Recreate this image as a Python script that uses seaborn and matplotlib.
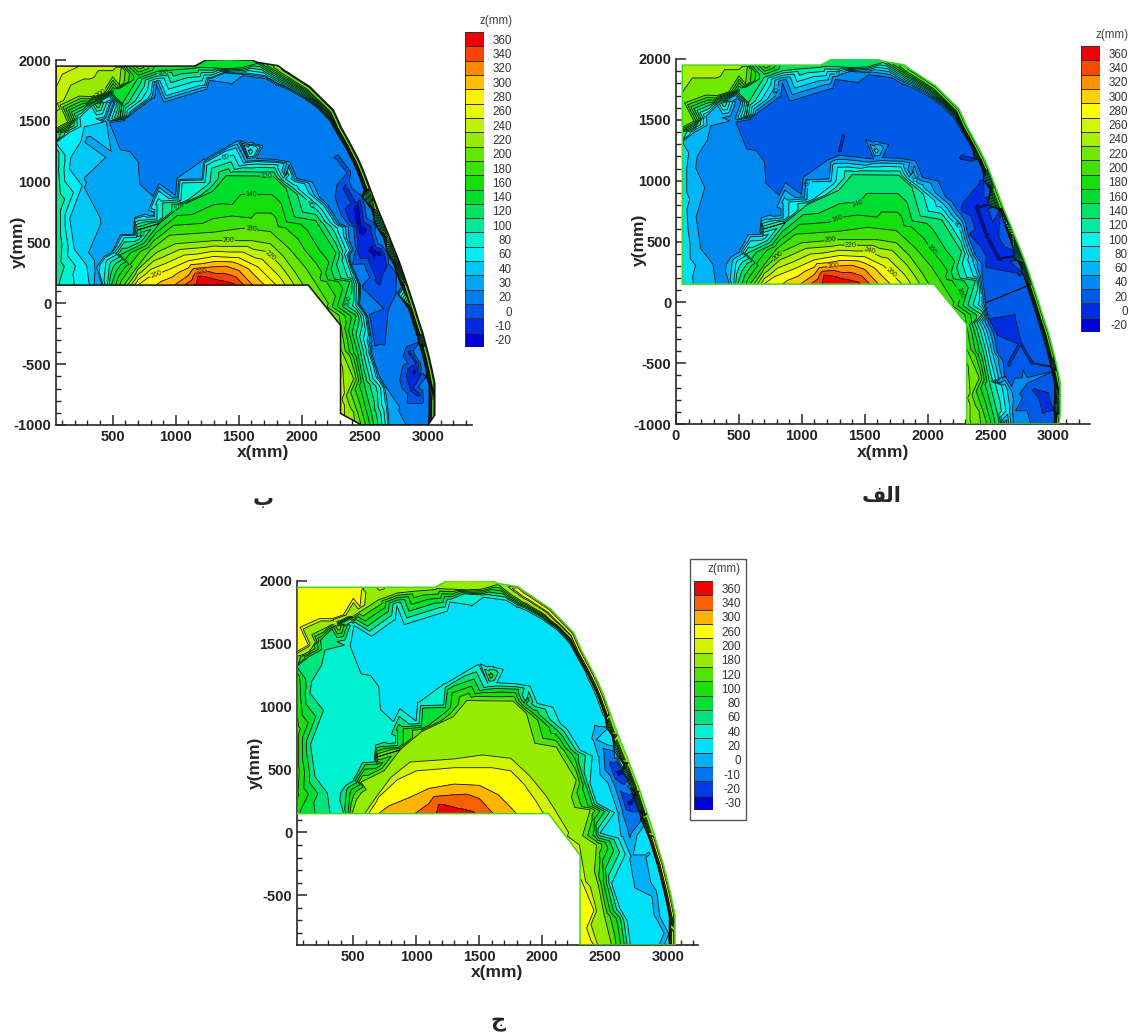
import numpy as np
import pandas as pd
import matplotlib
matplotlib.use("Agg")
import matplotlib.pyplot as plt
import matplotlib.tri as mtri
from matplotlib.colors import ListedColormap
from matplotlib.patches import Polygon, Rectangle
from matplotlib.ticker import MultipleLocator
import seaborn as sns

# legend levels of each panel, top to bottom
levels_a = [360, 340, 320, 300, 280, 260, 240, 220, 200, 180, 160, 140, 120, 100, 80, 60, 40, 20, 0, -20]
levels_b = [360, 340, 320, 300, 280, 260, 240, 220, 200, 180, 160, 140, 120, 100, 80, 60, 40, 30, 20, 0, -10, -20]
levels_c = [360, 340, 300, 260, 200, 180, 120, 100, 80, 60, 40, 20, 0, -10, -20, -30]

# stations (mm), one pair of lists per contour
peak_x = [1210, 1170, 1185, 1240, 1350, 1450]
peak_y = [170, 150, 215, 205, 175, 150]
peak_z = [356, 345, 345, 345, 345, 345]

iso300_x = [990, 1100, 1300, 1400, 1500, 1610]
iso300_y = [150, 230, 300, 305, 270, 150]
iso260_x = [700, 780, 950, 1100, 1300, 1500, 1650, 1796]
iso260_y = [150, 210, 280, 350, 385, 375, 300, 150]
iso200_x = [620, 700, 850, 1000, 1300, 1600, 1750, 1850, 1950, 2010, 2310, 2410, 2410, 2420]
iso200_y = [150, 280, 420, 490, 515, 515, 490, 390, 250, 150, -380, -620, -895, -1000]
iso180_x = [590, 680, 800, 950, 1300, 1750, 1900, 2100, 2295, 2310, 2380, 2440, 2470]
iso180_y = [150, 280, 440, 560, 585, 590, 450, 180, -100, -190, -430, -895, -1000]
iso120_x = [490, 560, 698, 870, 1042, 1293, 1400, 1770, 1875, 2110, 2270, 2380, 2430, 2445, 2490, 2550, 2570]
iso120_y = [150, 400, 603, 656, 802, 921, 1049, 1045, 945, 680, 415, 180, -100, -420, -650, -895, -1000]

stair70_x = [450, 470, 540, 600, 700, 715, 860, 860, 1050, 1060, 1240, 1255, 1560, 1590, 1640, 1790, 1850, 1880,
             1930, 2100, 2260, 2340, 2390, 2420, 2500, 2610, 2640, 2650]
stair70_y = [150, 350, 390, 530, 535, 670, 685, 830, 835, 980, 985, 1125, 1130, 1240, 1135, 1130, 1020, 1060,
             960, 810, 620, 370, 215, -20, -410, -690, -895, -1000]
stair20_x = [407, 420, 487, 553, 659, 672, 817, 817, 1003, 1016, 1201, 1214, 1571, 1571, 1611, 1637, 1796, 1875,
             1902, 1955, 2140, 2299, 2378, 2431, 2457, 2550, 2669, 2695, 2700]
stair20_y = [150, 391, 431, 572, 577, 717, 731, 876, 882, 1027, 1033, 1173, 1178, 1314, 1314, 1186, 1178, 1067,
             1160, 1027, 868, 656, 391, 232, -6, -405, -696, -895, -1000]
spur_x = [1590]
spur_y = [1285]

divider_x = [470, 553, 633, 698, 712, 765]
divider_y = [1490, 1147, 1247, 1160, 974, 749]
left40_x = [315, 294, 196, 160, 156, 169, 249, 275, 368, 430]
left40_y = [150, 312, 444, 700, 1107, 1200, 1332, 1451, 1518, 1490]
left28_x = [360, 300, 300, 370, 500, 600, 600, 450]
left28_y = [150, 1350, 1000, 300, 1200, 1000, 800, 700]

plateau_x = [900, 1300, 1700, 2000, 2200, 1100, 1500, 2620, 2800, 2900, 2850,
             720, 800, 870, 950, 1150, 1700, 1900, 2000, 2100, 2200, 900, 1250, 1600, 1900, 2100, 2200, 650, 600]
plateau_y = [1500, 1500, 1500, 1300, 1000, 1300, 1350, -600, -800, -1000, -1000,
             1300, 1100, 1000, 1250, 1230, 1300, 1250, 1150, 1000, 830, 1640, 1750, 1780, 1640, 1500, 1320, 1550, 1300]
plateau_ab_x = [2790, 2800, 2740]
plateau_ab_y = [-100, -300, -480]

corner200_x = [50, 143, 235, 330, 420, 500, 553, 566, 710]
corner200_y = [1438, 1490, 1703, 1700, 1730, 1862, 1796, 1928, 1950]
corner120_x = [50, 169, 275, 380, 500, 560, 700, 850, 1000, 1300, 1400, 1520]
corner120_y = [1400, 1465, 1624, 1640, 1720, 1760, 1850, 1905, 1920, 1935, 1930, 1935]
corner60_x = [50, 150, 240, 330, 400, 470]
corner60_y = [1320, 1400, 1530, 1620, 1660, 1700]
corner240_x = [300, 500, 566]
corner240_y = [1950, 1950, 1950]

rim_inner_x = [447, 500, 830, 844, 1267, 1400, 1444, 1505, 1531, 1717, 1800, 1875, 2000, 2113, 2190, 2225, 2262, 2310,
               2356, 2400, 2440, 2495, 2555, 2645, 2730, 2790, 2848, 2880, 2915, 2940, 2965, 2988, 3008, 3008, 3008, 3005]
rim_inner_y = [1504, 1650, 1695, 1809, 1836, 1889, 1810, 1880, 1875, 1849, 1800, 1770, 1700, 1620, 1540, 1500, 1430, 1345,
               1260, 1170, 1080, 930, 765, 540, 315, 135, -50, -155, -265, -365, -465, -570, -670, -790, -918, -1000]
rim_mid_x = [1800, 1848, 1888, 1967, 2048, 2133, 2230, 2258, 2288, 2335, 2380, 2424, 2463, 2518, 2578, 2668, 2754,
             2813, 2871, 2903, 2938, 2963, 2988, 3011, 3031, 3031, 3031, 3025]
rim_mid_y = [1930, 1893, 1868, 1815, 1762, 1675, 1575, 1510, 1440, 1355, 1270, 1180, 1088, 938, 772, 548, 322,
             145, -38, -145, -255, -355, -455, -560, -660, -790, -918, -1000]
rim_outer_x = [610, 850, 1150, 1240, 1400, 1600, 1650, 1812, 1860, 1900, 1980, 2063, 2150, 2248, 2280, 2310, 2355, 2400,
               2445, 2485, 2540, 2600, 2690, 2776, 2835, 2893, 2925, 2960, 2985, 3010, 3033, 3053, 3053, 3053, 3045]
rim_outer_y = [1950, 1950, 1950, 2000, 2005, 2000, 1980, 1953, 1915, 1890, 1835, 1780, 1690, 1590, 1520, 1450, 1365, 1280,
               1190, 1096, 945, 780, 555, 330, 150, -33, -140, -250, -350, -450, -555, -658, -790, -918, -1000]
rim_outer_z = [130, 130, 130, 130, 130, 130, 130, 190, 175, 175, 175, 175, 175, 175, 175, 175, 175, 175,
               175, 175, 175, 175, 175, 175, 175, 175, 175, 175, 175, 175, 175, 175, 175, 175, 175]

inner_x = [2050, 2180, 2300, 2300, 2300, 2300]
inner_y = [150, -30, -180, -500, -800, -1000]
inner_z = [198, 190, 182, 225, 230, 230]

left_edge_y = [150, 300, 500, 800, 1100, 1250, 1350, 1650, 1950]
left_edge_z_a = [70, 75, 75, 70, 70, 75, 110, 215, 235]
left_edge_z_b = [85, 95, 100, 100, 90, 90, 120, 230, 255]
left_edge_z_c = [85, 105, 110, 110, 95, 90, 110, 225, 250]

# deep zones differ from panel to panel
deep_a_x = [2286, 2273, 2340, 2470, 2497, 2550, 2643, 2737, 2684, 2750, 2680, 2570, 2440, 2370]
deep_a_y = [1197, 759, 560, 293, -145, -255, -515, -337, -118, 238, 420, 750, 1000, 1180]
core_a_x = [2393, 2472, 2671, 2565, 2472]
core_a_y = [772, 800, 375, 361, 540]
low_a_x = [2830, 2975, 2995, 2922, 2842]
low_a_y = [-500, -530, -885, -900, -720]
light_a_x = [2560, 2620, 2780, 2780, 2700]
light_a_y = [-650, -1000, -1000, -650, -760]
wedge_a_x = [1330, 1300]
wedge_a_y = [1370, 1240]

deep_b_x = [2287, 2274, 2327, 2406, 2485, 2540, 2578, 2644, 2670, 2740, 2745, 2680, 2575, 2470, 2380]
deep_b_y = [1205, 877, 712, 329, 137, -100, -343, -329, -50, 100, 250, 400, 650, 880, 1080]
mid_b_x = [2340, 2420, 2540, 2660, 2600, 2450, 2360]
mid_b_y = [950, 810, 590, 330, 200, 450, 750]
core_b_x = [2440, 2500, 2617, 2560, 2460]
core_b_y = [800, 600, 411, 430, 630]
low_b_x = [2800, 2920, 2980, 2960, 2840]
low_b_y = [-300, -330, -600, -800, -800]
lowmid_b_x = [2850, 2920, 2930, 2870, 2890]
lowmid_b_y = [-400, -500, -750, -700, -560]
lowmid_b_z = [-12, -12, -12, -12, -22]
light_b_x = [2650, 2680, 2750, 2800]
light_b_y = [-1000, -800, -900, -1000]

deep_c_x = [2444, 2418, 2457, 2537, 2616, 2642, 2709, 2748, 2814, 2848, 2800, 2700, 2590, 2510]
deep_c_y = [834, 736, 603, 391, 153, -33, -191, -417, -191, -165, 60, 350, 620, 830]
mid_c_x = [2497, 2576, 2642, 2695, 2780, 2700, 2570]
mid_c_y = [656, 391, 153, -6, 100, 338, 640]
dark_c_x = [2545, 2642, 2695, 2760, 2675, 2590]
dark_c_y = [540, 391, 180, 180, 418, 560]
core_c_x = [2600, 2690, 2725, 2630]
core_c_y = [470, 230, 270, 480]
low_c_x = [2850, 2920, 2960, 3000, 2900]
low_c_y = [-400, -650, -895, -800, -480]

# spike near x=560 in the two measured panels a and b
spike_x = [505, 560, 575, 590]
spike_y = [1750, 1540, 1640, 1510]
spike_z = [120, 120, 120, 20.2]

# outline of the measured region, the rim is shared and the lower end is not
outline_start_x = [50, 50]
outline_start_y = [150, 1950]
outline_a_x = [2310, 2310, 2050]
outline_a_y = [-1000, -180, 150]
outline_b_x = [3000, 2472, 2306, 2306, 2050]
outline_b_y = [-1000, -1000, -905, -180, 150]
outline_c_x = [3053, 2300, 2300, 2050]
outline_c_y = [-895, -895, -180, 150]

label_spots_a = [(1440, 790), (1300, 640), (1230, 510), (1390, 460), (1530, 400), (1250, 280), (1700, 230), (2000, 400),
                 (1050, 980), (820, 370), (1880, 1020), (2240, 640), (2270, 90), (2420, 30), (1300, 1880), (790, 1740)]
label_spots_b = [(1420, 510), (1750, 390), (1600, 840), (1600, 650), (1200, 260), (850, 220), (1030, 790), (1720, 1060),
                 (2030, 810), (2370, 20), (1400, 1180), (700, 570), (400, 1760), (900, 1900)]

ramp = ["#0000d8", "#0058e8", "#00b0f8", "#00f8f8", "#00e480", "#00dc10", "#50e400", "#b8f000", "#ffff00", "#ff9000", "#f00000"]


def stations(groups, left_z, rim_z):
    rows = [
        (peak_x, peak_y, peak_z), (iso300_x, iso300_y, 300), (iso260_x, iso260_y, 260),
        (iso200_x, iso200_y, 200), (iso180_x, iso180_y, 180), (iso120_x, iso120_y, 120),
        (stair70_x, stair70_y, 70), (stair20_x, stair20_y, 20.2), (spur_x, spur_y, 55), (divider_x, divider_y, 20.2),
        (left40_x, left40_y, 40), (left28_x, left28_y, 28), (plateau_x, plateau_y, 15),
        (corner200_x, corner200_y, 200), (corner120_x, corner120_y, 120), (corner60_x, corner60_y, 60),
        (corner240_x, corner240_y, 235), (rim_inner_x, rim_inner_y, 20.2), (rim_mid_x, rim_mid_y, rim_z),
        (rim_outer_x, rim_outer_y, rim_outer_z), (inner_x, inner_y, inner_z),
        ([50] * len(left_edge_y), left_edge_y, left_z),
    ] + groups
    df = pd.concat([pd.DataFrame({"x": x, "y": y, "z": z}) for x, y, z in rows], ignore_index=True)
    return df.drop_duplicates(subset=["x", "y"])


def px_axes(fig, left, right, top, bottom):
    return fig.add_axes([left / W, 1 - bottom / H, (right - left) / W, (bottom - top) / H])


def draw_panel(fig, box, xlim, ylim, df, levels, outline, edge, spots, xl, yl):
    ax = px_axes(fig, *box)
    colors = sns.blend_palette(ramp, len(levels))
    asc = sorted(levels)
    bands = [-1000] + asc + [1000]
    fill = colors + [colors[-1]]

    tri = mtri.Triangulation(df["x"].values, df["y"].values)
    patch = Polygon(outline, closed=True, facecolor="none", edgecolor=edge, lw=1.1, zorder=4)
    ax.add_patch(patch)
    cf = ax.tricontourf(tri, df["z"].values, levels=bands, colors=fill)
    cl = ax.tricontour(tri, df["z"].values, levels=asc, colors="#101010", linewidths=0.6)
    cf.set_clip_path(patch)
    cl.set_clip_path(patch)
    if spots:
        for t in ax.clabel(cl, manual=spots, fmt="%d", fontsize=5, inline=True, inline_spacing=1):
            t.set_color("#222222")

    ax.set_xlim(*xlim)
    ax.set_ylim(*ylim)
    ax.xaxis.set_major_locator(MultipleLocator(500))
    ax.xaxis.set_minor_locator(MultipleLocator(100))
    ax.yaxis.set_major_locator(MultipleLocator(500))
    ax.yaxis.set_minor_locator(MultipleLocator(100))
    ax.tick_params(which="major", direction="in", length=7, width=1.1, pad=3.5, labelsize=10.5)
    ax.tick_params(which="minor", direction="in", length=3.5, width=1.0)
    for t in ax.get_xticklabels() + ax.get_yticklabels():
        t.set_fontweight("bold")
        t.set_color("#222222")
    sns.despine(ax=ax)
    for s in ["left", "bottom"]:
        ax.spines[s].set_linewidth(1.2)
    ax.patch.set_alpha(0)
    ax.set_xlabel("x(mm)", fontsize=12.5, fontweight="bold")
    ax.set_ylabel("y(mm)", fontsize=12.5, fontweight="bold")
    ax.xaxis.set_label_coords((xl[0] - box[0]) / (box[1] - box[0]), (box[3] - xl[1]) / (box[3] - box[2]))
    ax.yaxis.set_label_coords((yl[0] - box[0]) / (box[1] - box[0]), (box[3] - yl[1]) / (box[3] - box[2]))
    ax.xaxis.label.set_va("center")
    ax.yaxis.label.set_va("center")
    return colors


def draw_legend(fig, box, levels, colors, title_xy):
    ax = px_axes(fig, *box)
    n = len(levels)
    sns.heatmap(np.arange(n - 1, -1, -1).reshape(-1, 1), ax=ax, cmap=ListedColormap(colors), cbar=False,
                linewidths=0.6, linecolor="#333333", xticklabels=False, yticklabels=[str(v) for v in levels])
    ax.yaxis.tick_right()
    ax.tick_params(axis="y", length=0, pad=20, labelsize=8.4, labelcolor="#333333", rotation=0)
    for t in ax.get_yticklabels():
        t.set_ha("right")
    fig.text(title_xy[0] / W, 1 - title_xy[1] / H, "z(mm)", fontsize=8.4, color="#444444", ha="right", va="center")


W, H = 1129, 1034
sns.set_style("ticks")
plt.rcParams["font.family"] = ["Liberation Sans", "DejaVu Sans"]
plt.rcParams["axes.unicode_minus"] = False
plt.rcParams["contour.negative_linestyle"] = "solid"
fig = plt.figure(figsize=(W / 100, H / 100), dpi=100)

common_ab = [(spike_x, spike_y, spike_z), (plateau_ab_x, plateau_ab_y, 15)]

df_a = stations(common_ab + [
    (deep_a_x, deep_a_y, -2), (core_a_x, core_a_y, -23), (low_a_x, low_a_y, -2),
    ([2940], [-780], -10), (light_a_x, light_a_y, 26), (wedge_a_x, wedge_a_y, -1)], left_edge_z_a, 190)
df_b = stations(common_ab + [
    (deep_b_x, deep_b_y, -2), (mid_b_x, mid_b_y, -12), (core_b_x, core_b_y, -23),
    (low_b_x, low_b_y, -2), (lowmid_b_x, lowmid_b_y, lowmid_b_z), (light_b_x, light_b_y, 25)], left_edge_z_b, 190)
df_c = stations([
    (deep_c_x, deep_c_y, -2), (mid_c_x, mid_c_y, -12), (dark_c_x, dark_c_y, -22),
    (core_c_x, core_c_y, -32), (low_c_x, low_c_y, -3)], left_edge_z_c, 225)

outline_a = list(zip(outline_start_x + rim_outer_x + outline_a_x, outline_start_y + rim_outer_y + outline_a_y))
outline_b = list(zip(outline_start_x + rim_outer_x[:-1] + outline_b_x, outline_start_y + rim_outer_y[:-1] + outline_b_y))
outline_c = list(zip(outline_start_x + rim_outer_x[:-1] + outline_c_x, outline_start_y + rim_outer_y[:-1] + outline_c_y))

colors_b = draw_panel(fig, (56, 472, 60, 425), (51, 3348), (-1000, 2000), df_b, levels_b, outline_b, "#111111",
                      label_spots_b, (263, 452), (18, 242))
colors_a = draw_panel(fig, (676, 1090, 59, 424), (0, 3290), (-1000, 2000), df_a, levels_a, outline_a, "#3fd62a",
                      label_spots_a, (883, 453), (639, 240))
colors_c = draw_panel(fig, (297, 698, 581, 945), (53, 3236), (-895, 2000), df_c, levels_c, outline_c, "#3fd62a",
                      None, (497, 972), (255, 763))

fig.add_artist(Rectangle((690 / W, 1 - 820 / H), 56 / W, 261 / H, transform=fig.transFigure,
                         facecolor="white", edgecolor="#555555", lw=1.0, zorder=-1))
draw_legend(fig, (465, 484, 32, 347), levels_b, colors_b, (513, 21))
draw_legend(fig, (1081, 1100, 46, 332), levels_a, colors_a, (1128, 35))
draw_legend(fig, (694, 713, 581, 810), levels_c, colors_c, (741, 569))

# matplotlib does not shape Arabic, so the joined forms go in visual order
fig.text(263 / W, 1 - 500 / H, "\u0628", fontsize=15, fontweight="bold", ha="center", va="center")
fig.text(882 / W, 1 - 497 / H, "\ufed2\ufedf\ufe8d", fontsize=15, fontweight="bold", ha="center", va="center")
fig.text(498 / W, 1 - 1023 / H, "\u062c", fontsize=15, fontweight="bold", ha="center", va="center")

fig.savefig("out.png", dpi=100)
